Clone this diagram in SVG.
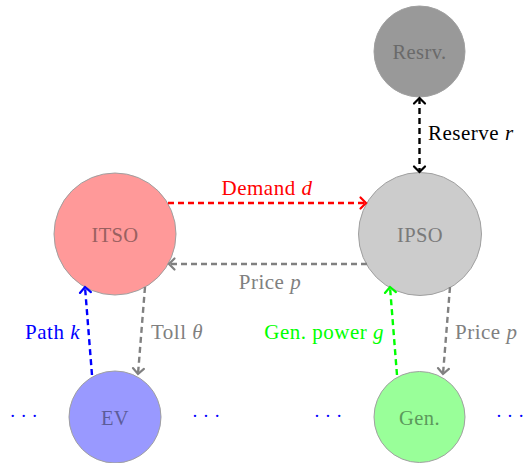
<svg xmlns="http://www.w3.org/2000/svg" width="527" height="463" viewBox="0 0 527 463">
<defs>
<style>
.node{stroke:#a0a0a0;stroke-width:1}
.nt{font-family:"Liberation Serif","Times New Roman",serif;font-size:20.5px;letter-spacing:0.4px;text-anchor:middle}
.lbl{font-family:"Liberation Serif","Times New Roman",serif;font-size:21px;letter-spacing:0.5px}
.lbl tspan.v{font-style:italic}
.e{fill:none;stroke-width:2.4;stroke-dasharray:6 4}
.dots{font-family:"Liberation Serif",serif;font-size:19px;fill:#0000ff;text-anchor:middle;white-space:pre}
</style>
<marker id="arR" viewBox="-8 -8 10 16" markerWidth="10" markerHeight="16" refX="0" refY="0" orient="auto" markerUnits="userSpaceOnUse"><path d="M-5.5,-5.5 Q-1,-1 0,0 Q-1,1 -5.5,5.5" fill="none" stroke="#ff0000" stroke-width="2.2" stroke-linecap="round"/></marker>
<marker id="arG" viewBox="-8 -8 10 16" markerWidth="10" markerHeight="16" refX="0" refY="0" orient="auto" markerUnits="userSpaceOnUse"><path d="M-5.5,-5.5 Q-1,-1 0,0 Q-1,1 -5.5,5.5" fill="none" stroke="#808080" stroke-width="2.2" stroke-linecap="round"/></marker>
<marker id="arB" viewBox="-8 -8 10 16" markerWidth="10" markerHeight="16" refX="0" refY="0" orient="auto" markerUnits="userSpaceOnUse"><path d="M-5.5,-5.5 Q-1,-1 0,0 Q-1,1 -5.5,5.5" fill="none" stroke="#0000ff" stroke-width="2.2" stroke-linecap="round"/></marker>
<marker id="arGr" viewBox="-8 -8 10 16" markerWidth="10" markerHeight="16" refX="0" refY="0" orient="auto" markerUnits="userSpaceOnUse"><path d="M-5.5,-5.5 Q-1,-1 0,0 Q-1,1 -5.5,5.5" fill="none" stroke="#00ff00" stroke-width="2.2" stroke-linecap="round"/></marker>
<marker id="arK" viewBox="-8 -8 10 16" markerWidth="10" markerHeight="16" refX="0" refY="0" orient="auto-start-reverse" markerUnits="userSpaceOnUse"><path d="M-5.5,-5.5 Q-1,-1 0,0 Q-1,1 -5.5,5.5" fill="none" stroke="#000000" stroke-width="2.2" stroke-linecap="round"/></marker>
</defs>
<rect width="527" height="463" fill="#ffffff"/>

<g id="resrv">
<circle class="node" cx="419.5" cy="51.5" r="45.5" fill="#999999"/>
<text class="nt" x="419.5" y="58.5" fill="#6a6a6a">Resrv.</text>
</g>
<g id="itso">
<circle class="node" cx="115" cy="234" r="61" fill="#ff9999"/>
<text class="nt" x="115" y="241.5" fill="#996060">ITSO</text>
</g>
<g id="ipso">
<circle class="node" cx="420" cy="234" r="61.5" fill="#cccccc"/>
<text class="nt" x="420" y="241.5" fill="#7a7a7a">IPSO</text>
</g>
<g id="ev">
<circle class="node" cx="115" cy="417" r="46" fill="#9999ff"/>
<text class="nt" x="115" y="424.5" fill="#5c5c99">EV</text>
</g>
<g id="gen">
<circle class="node" cx="419.5" cy="417" r="45.5" fill="#99ff99"/>
<text class="nt" x="419.5" y="424.5" fill="#5c995c">Gen.</text>
</g>

<g id="connectors">
<line class="e" x1="168" y1="203" x2="366" y2="203" stroke="#ff0000" marker-end="url(#arR)"/>
<line class="e" x1="367" y1="264" x2="169" y2="264" stroke="#808080" marker-end="url(#arG)"/>
<line class="e" x1="419.5" y1="98" x2="419.5" y2="172" stroke="#000000" marker-start="url(#arK)" marker-end="url(#arK)"/>
<line class="e" x1="92" y1="375" x2="85" y2="287" stroke="#0000ff" marker-end="url(#arB)"/>
<line class="e" x1="145" y1="287" x2="138" y2="374" stroke="#808080" marker-end="url(#arG)"/>
<line class="e" x1="397" y1="375" x2="390" y2="287" stroke="#00ff00" marker-end="url(#arGr)"/>
<line class="e" x1="450" y1="287" x2="443" y2="374" stroke="#808080" marker-end="url(#arG)"/>
</g>

<g id="labels">
<text class="lbl" x="267" y="195" fill="#ff0000" text-anchor="middle">Demand <tspan class="v">d</tspan></text>
<text class="lbl" x="270" y="289" fill="#808080" text-anchor="middle">Price <tspan class="v">p</tspan></text>
<text class="lbl" x="428" y="140" fill="#000000">Reserve <tspan class="v">r</tspan></text>
<text class="lbl" x="80" y="339" fill="#0000ff" text-anchor="end">Path <tspan class="v">k</tspan></text>
<text class="lbl" x="151" y="339" fill="#808080">Toll <tspan class="v">θ</tspan></text>
<text class="lbl" x="384" y="339" fill="#00ff00" text-anchor="end">Gen. power <tspan class="v">g</tspan></text>
<text class="lbl" x="455" y="339" fill="#808080">Price <tspan class="v">p</tspan></text>
</g>

<g id="dots">
<text class="dots" x="23.7" y="421.5">· · ·</text>
<text class="dots" x="206" y="421.5">· · ·</text>
<text class="dots" x="328" y="421.5">· · ·</text>
<text class="dots" x="510" y="421.5">· · ·</text>
</g>
</svg>
